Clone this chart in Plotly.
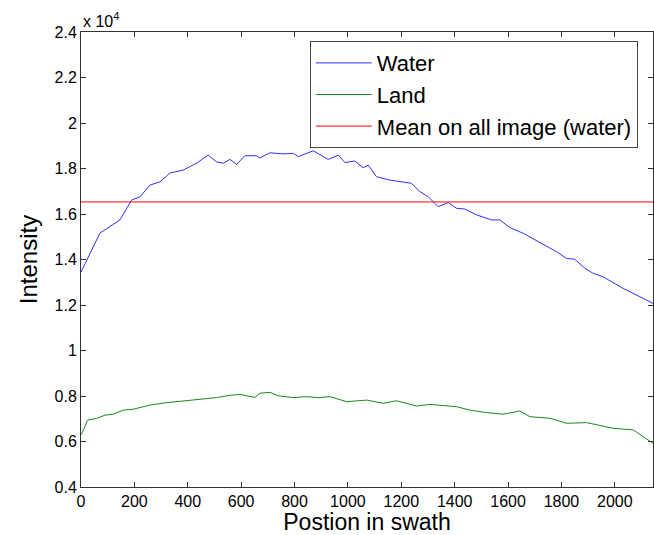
import plotly.graph_objects as go

water_x = [0, 71, 146, 190, 221, 258, 296, 333, 383, 434, 476, 508, 533, 558, 583, 614, 658, 670, 708, 758, 795, 814, 870, 926, 964, 989, 1026, 1057, 1076, 1107, 1157, 1195, 1238, 1270, 1301, 1338, 1376, 1407, 1438, 1482, 1538, 1569, 1607, 1657, 1731, 1782, 1819, 1850, 1888, 1919, 1956, 2031, 2106, 2143]
water_y = [13450, 15160, 15740, 16620, 16750, 17270, 17410, 17800, 17930, 18240, 18590, 18290, 18230, 18400, 18180, 18560, 18560, 18460, 18690, 18640, 18670, 18520, 18780, 18400, 18590, 18260, 18330, 18030, 18150, 17640, 17490, 17420, 17350, 16980, 16760, 16320, 16500, 16250, 16220, 15960, 15740, 15740, 15400, 15150, 14670, 14340, 14050, 14010, 13610, 13390, 13240, 12730, 12290, 12070]

land_x = [0, 9, 24, 59, 90, 121, 159, 196, 258, 321, 383, 446, 508, 558, 596, 652, 670, 708, 739, 795, 845, 889, 933, 995, 1070, 1132, 1182, 1257, 1307, 1407, 1457, 1519, 1582, 1644, 1682, 1757, 1819, 1894, 1931, 1994, 2069, 2106, 2143]
land_y = [6290, 6500, 6940, 7020, 7160, 7200, 7380, 7420, 7600, 7710, 7780, 7850, 7930, 8030, 8070, 7940, 8120, 8160, 8010, 7930, 7970, 7930, 7970, 7750, 7820, 7680, 7790, 7560, 7630, 7530, 7380, 7270, 7200, 7340, 7090, 7020, 6800, 6830, 6730, 6580, 6510, 6210, 5920]

mean_water = 16530
x_range = [0, 2143]

y_tickvals = [4000, 6000, 8000, 10000, 12000, 14000, 16000, 18000, 20000, 22000, 24000]
y_ticktext = ["0.4", "0.6", "0.8", "1", "1.2", "1.4", "1.6", "1.8", "2", "2.2", "2.4"]
x_tickvals = [0, 200, 400, 600, 800, 1000, 1200, 1400, 1600, 1800, 2000]

font_family = "Liberation Sans, Arial, Helvetica, sans-serif"

fig = go.Figure()
fig.add_trace(go.Scatter(x=water_x, y=water_y, mode="lines", name="Water",
                         line=dict(color="#3030ff", width=1)))
fig.add_trace(go.Scatter(x=land_x, y=land_y, mode="lines", name="Land",
                         line=dict(color="#1a8a1a", width=1)))
fig.add_trace(go.Scatter(x=x_range, y=[mean_water, mean_water], mode="lines",
                         name="Mean on all image (water)",
                         line=dict(color="#ff0000", width=1)))

fig.update_layout(
    width=654, height=535,
    margin=dict(l=81, r=1, t=32, b=48),
    paper_bgcolor="white", plot_bgcolor="white",
    font=dict(family=font_family, color="black", size=16),
    showlegend=True,
    legend=dict(x=0.40, y=0.98, xanchor="left", yanchor="top",
                bgcolor="white", bordercolor="#444444", borderwidth=1,
                font=dict(size=22, family=font_family), tracegroupgap=0,
                itemwidth=56),
    xaxis=dict(range=x_range, tickvals=x_tickvals, ticks="inside", ticklen=5,
               showgrid=False, zeroline=False, showline=True, linecolor="#333333",
               linewidth=1, mirror="ticks", tickcolor="#333333",
               tickfont=dict(size=16),
               title=dict(text="Postion in swath", font=dict(size=23), standoff=2)),
    yaxis=dict(range=[4000, 24000], tickvals=y_tickvals, ticktext=y_ticktext,
               ticks="inside", ticklen=5, showgrid=False, zeroline=False,
               showline=True, linecolor="#333333", linewidth=1, mirror="ticks",
               tickcolor="#333333", tickfont=dict(size=16),
               title=dict(text="Intensity", font=dict(size=24), standoff=10)),
    annotations=[dict(text="x 10<sup>4</sup>", xref="paper", yref="paper",
                      x=0.0, y=1.0, xanchor="left", yanchor="bottom",
                      showarrow=False, font=dict(size=16), yshift=0)],
)

fig.write_html("out.html", config={"displayModeBar": False},
               post_script="document.body.style.margin='0';document.body.style.overflow='hidden';")
